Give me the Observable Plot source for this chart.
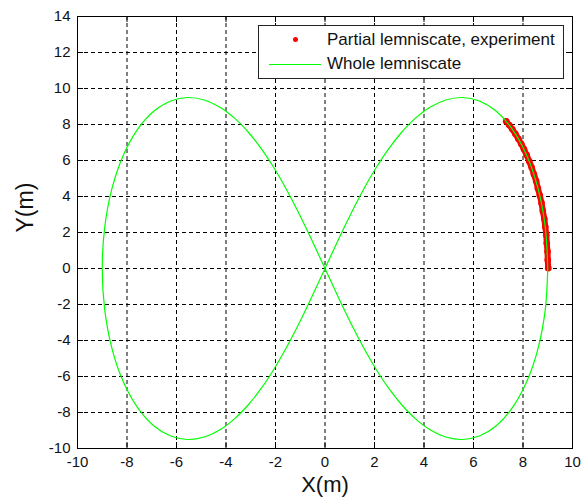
<!DOCTYPE html>
<html>
<head>
<meta charset="utf-8">
<script src="https://cdn.jsdelivr.net/npm/d3@7"></script>
<script src="https://cdn.jsdelivr.net/npm/@observablehq/plot@0.6"></script>
<style>
  html, body { margin: 0; padding: 0; background: #fff; }
  #wrap { position: relative; width: 583px; height: 501px; font-family: "Liberation Sans", Arial, sans-serif; }
  #legend { position: absolute; left: 258px; top: 25px; width: 306px; height: 54px; border: 1px solid #222; background: #fff; box-sizing: border-box; }
  #legend .txt { position: absolute; left: 68px; font-size: 17px; line-height: 20px; color: #111; white-space: nowrap; }
  #legend .mk { position: absolute; left: 34px; top: 11px; width: 5px; height: 5px; border-radius: 50%; background: #ff0000; }
  #legend .ln { position: absolute; left: 10px; top: 38px; width: 52px; height: 0; border-top: 1.5px solid #00ff00; }
</style>
</head>
<body>
<div id="wrap">
  <div id="chart"></div>
  <div id="legend">
    <div class="mk"></div>
    <div class="txt" style="top:4px">Partial lemniscate, experiment</div>
    <div class="ln"></div>
    <div class="txt" style="top:28px">Whole lemniscate</div>
  </div>
</div>
<script>
// Tick values
const xTicks = [-10, -8, -6, -4, -2, 0, 2, 4, 6, 8, 10];
const yTicks = [-10, -8, -6, -4, -2, 0, 2, 4, 6, 8, 10, 12, 14];

// Whole lemniscate
const lemX = [
  9, 8.898, 8.604, 8.148, 7.572, 6.921, 6.235, 5.547, 4.879, 4.243, 3.646, 3.089, 2.571, 2.088, 1.635, 1.205, 0.793, 0.394, 0,
  -0.394, -0.793, -1.205, -1.635, -2.088, -2.571, -3.089, -3.646, -4.243, -4.879, -5.547, -6.235, -6.921, -7.572, -8.148, -8.604, -8.898, -9,
  -8.898, -8.604, -8.148, -7.572, -6.921, -6.235, -5.547, -4.879, -4.243, -3.646, -3.089, -2.571, -2.088, -1.635, -1.205, -0.793, -0.394, 0,
  0.394, 0.793, 1.205, 1.635, 2.088, 2.571, 3.089, 3.646, 4.243, 4.879, 5.547, 6.235, 6.921, 7.572, 8.148, 8.604, 8.898, 9
];
const lemY = [
  0, 2.315, 4.461, 6.296, 7.731, 8.732, 9.308, 9.500, 9.362, 8.957, 8.338, 7.555, 6.649, 5.650, 4.586, 3.475, 2.333, 1.171, 0,
  -1.171, -2.333, -3.475, -4.586, -5.650, -6.649, -7.555, -8.338, -8.957, -9.362, -9.500, -9.308, -8.732, -7.731, -6.296, -4.461, -2.315, 0,
  2.315, 4.461, 6.296, 7.731, 8.732, 9.308, 9.500, 9.362, 8.957, 8.338, 7.555, 6.649, 5.650, 4.586, 3.475, 2.333, 1.171, 0,
  -1.171, -2.333, -3.475, -4.586, -5.650, -6.649, -7.555, -8.338, -8.957, -9.362, -9.500, -9.308, -8.732, -7.731, -6.296, -4.461, -2.315, 0
];

// Partial lemniscate, experiment
const expX = [9.02, 9.00, 8.99, 8.96, 8.94, 8.90, 8.86, 8.80, 8.75, 8.68, 8.60, 8.53, 8.44, 8.35, 8.25, 8.15, 8.04, 7.93, 7.81, 7.69, 7.57, 7.44, 7.32];
const expY = [0.02, 0.47, 0.94, 1.40, 1.86, 2.32, 2.76, 3.20, 3.63, 4.05, 4.46, 4.86, 5.24, 5.61, 5.96, 6.30, 6.62, 6.92, 7.21, 7.48, 7.73, 7.97, 8.18];

const lemRows = lemX.map((x, i) => ({x, y: lemY[i]}));
const expRows = expX.map((x, i) => ({x, y: expY[i]}));

const W = 583, H = 501, mL = 77, mR = 11, mT = 16, mB = 53;
const plotW = W - mL - mR, plotH = H - mT - mB, tk = 6;
const fmt = d => String(d);

const chart = Plot.plot({
  width: W, height: H,
  marginLeft: mL, marginRight: mR, marginTop: mT, marginBottom: mB,
  style: {fontFamily: "'Liberation Sans', Arial, sans-serif", fontSize: "15px", color: "#111", background: "#fff"},
  x: {domain: [-10, 10], ticks: xTicks},
  y: {domain: [-10, 14], ticks: yTicks},
  marks: [
    Plot.gridX(xTicks, {stroke: "#000", strokeOpacity: 1, strokeDasharray: "4,3"}),
    Plot.gridY(yTicks, {stroke: "#000", strokeOpacity: 1, strokeDasharray: "4,3"}),
    Plot.tickX(xTicks, {x: d => d, stroke: "#000", insetBottom: plotH - tk}),
    Plot.tickX(xTicks, {x: d => d, stroke: "#000", insetTop: plotH - tk}),
    Plot.tickY(yTicks, {y: d => d, stroke: "#000", insetRight: plotW - tk}),
    Plot.tickY(yTicks, {y: d => d, stroke: "#000", insetLeft: plotW - tk}),
    Plot.line(expRows, {x: "x", y: "y", stroke: "#ff0000", strokeWidth: 6, curve: "catmull-rom"}),
    Plot.dot(expRows, {x: "x", y: "y", r: 3.3, fill: "#ff0000"}),
    Plot.line(lemRows, {x: "x", y: "y", stroke: "#00ff00", strokeWidth: 1.2, curve: "catmull-rom"}),
    Plot.frame({stroke: "#000"}),
    Plot.axisX(xTicks, {tickSize: 0, tickPadding: 8, label: null, tickFormat: fmt}),
    Plot.axisY(yTicks, {tickSize: 0, tickPadding: 7, label: null, tickFormat: fmt}),
    Plot.text(["X(m)"], {frameAnchor: "bottom", dy: 43, fontSize: 22, fill: "#111"}),
    Plot.text(["Y(m)"], {frameAnchor: "left", dx: -52, rotate: -90, fontSize: 23, fill: "#111"})
  ]
});
document.getElementById("chart").append(chart);
</script>
</body>
</html>
